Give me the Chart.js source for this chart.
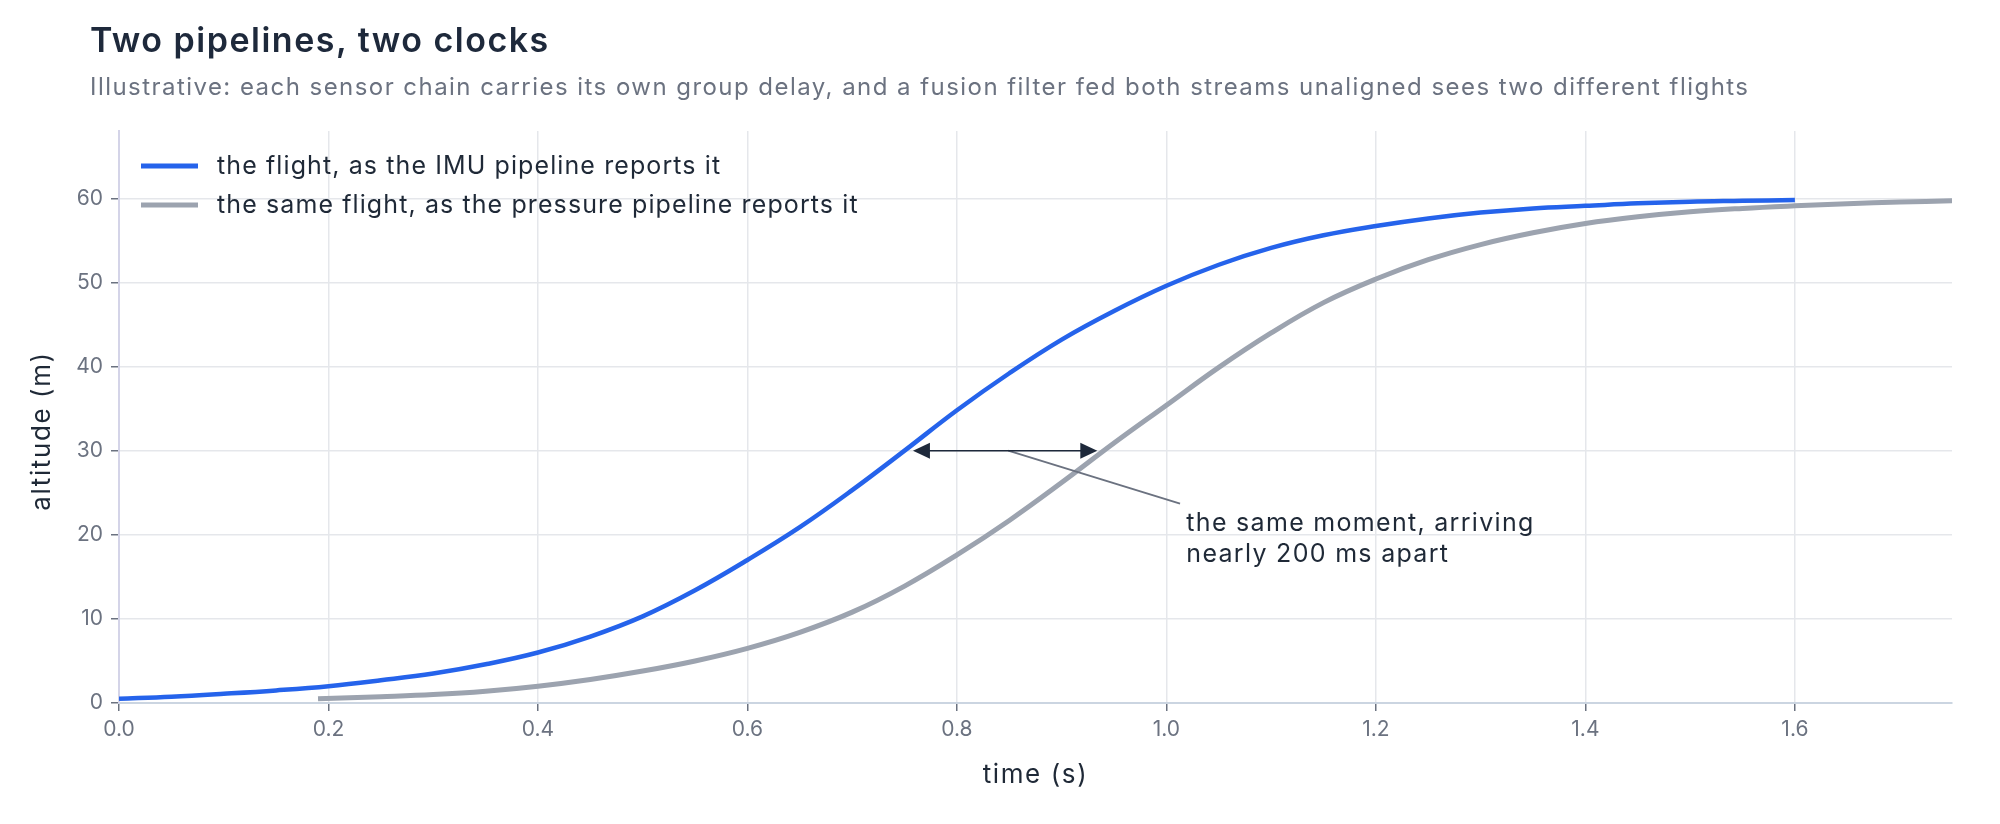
<!DOCTYPE html>
<html>
<head>
<meta charset="utf-8">
<script src="https://cdn.jsdelivr.net/npm/chart.js@4.4.1/dist/chart.umd.min.js"></script>
<style>
  html, body { margin: 0; padding: 0; background: #fff; }
  #wrap { position: relative; width: 2000px; height: 824px; }
  #title { position: absolute; left: 90px; top: 19px; font: 600 34px Inter, sans-serif; letter-spacing: 1.5px; color: #1e293b; }
  #subtitle { position: absolute; left: 90px; top: 72px; font: 400 24px Inter, sans-serif; letter-spacing: 1.45px; color: #6b7280; }
  canvas { position: absolute; left: 0; top: 0; }
</style>
</head>
<body>
<div id="wrap">
  <canvas id="chart" width="2000" height="824"></canvas>
  <div id="title">Two pipelines, two clocks</div>
  <div id="subtitle">Illustrative: each sensor chain carries its own group delay, and a fusion filter fed both streams unaligned sees two different flights</div>
</div>
<script>
// values
const imuTime = [0, 0.05, 0.1, 0.15, 0.2, 0.25, 0.3, 0.35, 0.4, 0.45, 0.5, 0.55, 0.6, 0.65, 0.7, 0.75, 0.8, 0.85, 0.9, 0.95, 1.0, 1.05, 1.1, 1.15, 1.2, 1.25, 1.3, 1.35, 1.4, 1.45, 1.5, 1.55, 1.6];
const imuAlt = [0.5, 0.75, 1.1, 1.5, 2.0, 2.7, 3.5, 4.6, 6.0, 7.9, 10.3, 13.4, 17.0, 20.9, 25.3, 30.0, 34.8, 39.2, 43.2, 46.6, 49.6, 52.1, 54.1, 55.6, 56.7, 57.6, 58.3, 58.8, 59.1, 59.4, 59.6, 59.7, 59.8];

const pressureTime = [0.19, 0.25, 0.3, 0.35, 0.4, 0.45, 0.5, 0.55, 0.6, 0.65, 0.7, 0.75, 0.8, 0.85, 0.9, 0.95, 1.0, 1.05, 1.1, 1.15, 1.2, 1.25, 1.3, 1.35, 1.4, 1.45, 1.5, 1.55, 1.6, 1.65, 1.7, 1.75];
const pressureAlt = [0.5, 0.75, 1.0, 1.4, 2.0, 2.8, 3.8, 5.0, 6.5, 8.4, 10.8, 13.9, 17.6, 21.7, 26.2, 30.9, 35.4, 39.9, 44.0, 47.6, 50.4, 52.7, 54.5, 55.9, 57.0, 57.8, 58.4, 58.8, 59.1, 59.35, 59.55, 59.7];

const seriesLabels = ['the flight, as the IMU pipeline reports it', 'the same flight, as the pressure pipeline reports it'];
const xTicks = [0, 0.2, 0.4, 0.6, 0.8, 1.0, 1.2, 1.4, 1.6];
const yTicks = [0, 10, 20, 30, 40, 50, 60];
const xTitle = 'time (s)';
const yTitle = 'altitude (m)';

// annotation: the gap between the curves at 30 m, and its note
const gapAt = 30;
const gapFrom = 0.758;
const gapTo = 0.934;
const leader = [[0.849, 30], [1.013, 23.7]];
const noteAt = [1.019, 21.4];
const noteLines = ['the same moment, arriving', 'nearly 200 ms apart'];

const toPoints = (xs, ys) => xs.map((x, i) => ({ x: x, y: ys[i] }));

const legendAndNote = {
	id: 'legendAndNote',
	afterDatasetsDraw(chart) {
		const ctx = chart.ctx;
		const xs = chart.scales.x;
		const ys = chart.scales.y;
		const ca = chart.chartArea;
		ctx.save();

		// leader line
		ctx.strokeStyle = '#6b7280';
		ctx.lineWidth = 2;
		ctx.beginPath();
		ctx.moveTo(xs.getPixelForValue(leader[0][0]), ys.getPixelForValue(leader[0][1]));
		ctx.lineTo(xs.getPixelForValue(leader[1][0]), ys.getPixelForValue(leader[1][1]));
		ctx.stroke();

		// double arrow
		const y = ys.getPixelForValue(gapAt);
		const x1 = xs.getPixelForValue(gapFrom);
		const x2 = xs.getPixelForValue(gapTo);
		ctx.strokeStyle = '#1e293b';
		ctx.fillStyle = '#1e293b';
		ctx.lineWidth = 1.5;
		ctx.beginPath();
		ctx.moveTo(x1 + 10, y);
		ctx.lineTo(x2 - 10, y);
		ctx.stroke();
		const head = (tip, dir) => {
			ctx.beginPath();
			ctx.moveTo(tip, y);
			ctx.lineTo(tip - dir * 17, y - 8);
			ctx.lineTo(tip - dir * 17, y + 8);
			ctx.closePath();
			ctx.fill();
		};
		head(x1, -1);
		head(x2, 1);

		// note text
		ctx.letterSpacing = '1.3px';
		ctx.font = '400 25px Inter, sans-serif';
		ctx.fillStyle = '#1f2937';
		ctx.textBaseline = 'middle';
		const nx = xs.getPixelForValue(noteAt[0]);
		const ny = ys.getPixelForValue(noteAt[1]);
		noteLines.forEach((t, i) => ctx.fillText(t, nx, ny + i * 31));

		// legend, inside the plot
		ctx.letterSpacing = '1.1px';
		chart.data.datasets.forEach((ds, i) => {
			const ly = ca.top + 35 + i * 39;
			ctx.strokeStyle = ds.borderColor;
			ctx.lineWidth = 5;
			ctx.beginPath();
			ctx.moveTo(ca.left + 22, ly);
			ctx.lineTo(ca.left + 79, ly);
			ctx.stroke();
			ctx.fillStyle = '#1f2937';
			ctx.fillText(ds.label, ca.left + 98, ly);
		});

		// axis titles
		ctx.font = '400 26px Inter, sans-serif';
		ctx.letterSpacing = '1.6px';
		ctx.textAlign = 'center';
		ctx.fillText(xTitle, (ca.left + ca.right) / 2, 775);
		ctx.translate(42, (ca.top + ca.bottom) / 2 + 14);
		ctx.rotate(-Math.PI / 2);
		ctx.fillText(yTitle, 0, 0);
		ctx.restore();
	}
};

new Chart(document.getElementById('chart').getContext('2d'), {
	type: 'line',
	data: {
		datasets: [
			{
				label: seriesLabels[0],
				data: toPoints(imuTime, imuAlt),
				borderColor: '#2563eb',
				borderWidth: 4.5,
				pointRadius: 0,
				tension: 0.4,
			},
			{
				label: seriesLabels[1],
				data: toPoints(pressureTime, pressureAlt),
				borderColor: '#9ca3af',
				borderWidth: 5,
				pointRadius: 0,
				tension: 0.4,
			}
		]
	},
	options: {
		responsive: false,
		animation: false,
		layout: { padding: { left: 20, right: 48, top: 131, bottom: 20 } },
		plugins: {
			legend: { display: false },
			tooltip: { enabled: false },
		},
		scales: {
			x: {
				type: 'linear',
				min: 0,
				max: 1.75,
				afterBuildTicks: (s) => { s.ticks = xTicks.map(v => ({ value: v })); },
				afterFit: (s) => { s.height = 101; },
				ticks: {
					callback: (v) => v.toFixed(1),
					color: '#6b7280',
					font: { family: 'Inter', size: 21 },
					padding: 6,
				},
				grid: { color: '#e5e7eb', lineWidth: 1.5, tickColor: '#6b7280', tickLength: 8 },
				border: { color: '#cbd5e1', width: 2 },
			},
			y: {
				min: 0,
				max: 68,
				afterBuildTicks: (s) => { s.ticks = yTicks.map(v => ({ value: v })); },
				afterFit: (s) => { s.width = 99; },
				ticks: {
					color: '#6b7280',
					font: { family: 'Inter', size: 21 },
					padding: 8,
				},
				grid: { color: '#e5e7eb', lineWidth: 1.5, tickColor: '#6b7280', tickLength: 8 },
				border: { color: '#d4d4e8', width: 2 },
			}
		}
	},
	plugins: [legendAndNote]
});
</script>
</body>
</html>
